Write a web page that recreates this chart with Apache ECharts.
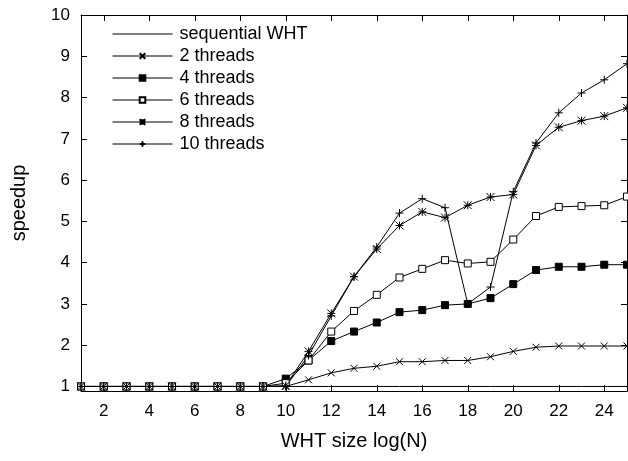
<!DOCTYPE html>
<html>
<head>
<meta charset="utf-8">
<script src="https://cdn.jsdelivr.net/npm/echarts@6/dist/echarts.min.js"></script>
<style>html,body{margin:0;padding:0;background:#fff}#c{width:628px;height:461px}</style>
</head>
<body>
<div id="c"></div>
<script>
var sizes = [1,2,3,4,5,6,7,8,9,10,11,12,13,14,15,16,17,18,19,20,21,22,23,24,25];
var sequential = [1,1,1,1,1,1,1,1,1,1,1,1,1,1,1,1,1,1,1,1,1,1,1,1,1];
var threads2 = [1,1,1,1,1,1,1,1,1,1.0,1.16,1.33,1.44,1.49,1.6,1.6,1.63,1.63,1.72,1.85,1.95,1.98,1.98,1.98,1.98];
var threads4 = [1,1,1,1,1,1,1,1,1,1.19,1.63,2.1,2.33,2.55,2.8,2.85,2.97,3.0,3.14,3.48,3.82,3.9,3.9,3.95,3.95];
var threads6 = [1,1,1,1,1,1,1,1,1,1.08,1.63,2.33,2.83,3.22,3.64,3.85,4.06,3.98,4.02,4.56,5.13,5.35,5.37,5.39,5.6];
var threads8 = [1,1,1,1,1,1,1,1,1,1.02,1.85,2.77,3.66,4.33,4.9,5.23,5.09,5.39,5.59,5.65,6.84,7.28,7.44,7.55,7.75];
var threads10 = [1,1,1,1,1,1,1,1,1,1.0,1.75,2.71,3.66,4.38,5.2,5.55,5.33,3.0,3.41,5.72,6.9,7.63,8.11,8.43,8.82];
var xTicks = [2,4,6,8,10,12,14,16,18,20,22,24];
var yTicks = [1,2,3,4,5,6,7,8,9,10];
var names = ['sequential WHT','2 threads','4 threads','6 threads','8 threads','10 threads'];

function pairs(arr){ return sizes.map(function(x,i){ return [x, arr[i]]; }); }

var FONT = '"Liberation Sans", Arial, sans-serif';
var SYM_X = 'path://M0,0L10,10M10,0L0,10';
var SYM_PLUS = 'path://M5,0L5,10M0,5L10,5';
var SYM_STAR = 'path://M0,0L10,10M10,0L0,10M5,0L5,10M0,5L10,5';

function lineSeries(name, arr, symbol, size, filled){
  return {
    name: name, type: 'line', data: pairs(arr),
    symbol: symbol, symbolSize: size, showSymbol: symbol !== 'none',
    animation: false,
    lineStyle: {color: '#000', width: 1},
    itemStyle: filled === true ? {color: '#000', borderColor: '#000', borderWidth: 1}
      : {color: filled === 'white' ? '#fff' : 'none', borderColor: '#000', borderWidth: 1},
    emphasis: {disabled: true}
  };
}

var chart = echarts.init(document.getElementById('c'), null, {renderer: 'canvas'});
var axisCommon = {
  axisLine: {show: true, lineStyle: {color: '#000', width: 1}},
  splitLine: {show: false}
};
var legendData = names.map(function(n, i){
  var d = {name: n, lineStyle: {width: 1, color: '#000'}};
  if (i === 0) d.itemStyle = {opacity: 0, borderWidth: 0};
  return d;
});
chart.setOption({
  backgroundColor: '#fff',
  animation: false,
  grid: {left: 81, right: 1, top: 15, bottom: 70, containLabel: false},
  legend: {
    orient: 'vertical', left: 107, top: 20,
    itemWidth: 60, itemHeight: 7, itemGap: 4,
    textStyle: {fontFamily: FONT, fontSize: 18, color: '#000', lineHeight: 18, padding: [0,0,0,2]},
    data: legendData,
    selectedMode: false
  },
  xAxis: [
    Object.assign({}, axisCommon, {
      type: 'value', min: 1, max: 25, position: 'bottom',
      name: 'WHT size log(N)', nameLocation: 'middle', nameGap: 40,
      nameTextStyle: {fontFamily: FONT, fontSize: 20, color: '#000'},
      axisTick: {show: true, inside: true, length: 6, lineStyle: {color: '#000'}, customValues: xTicks},
      axisLabel: {show: true, fontFamily: FONT, fontSize: 17, color: '#000', margin: 12, customValues: xTicks}
    }),
    Object.assign({}, axisCommon, {
      type: 'value', min: 1, max: 25, position: 'top',
      axisTick: {show: true, inside: true, length: 6, lineStyle: {color: '#000'}, customValues: xTicks},
      axisLabel: {show: false}
    })
  ],
  yAxis: [
    Object.assign({}, axisCommon, {
      type: 'value', min: 0.89, max: 10, position: 'left',
      name: 'speedup', nameLocation: 'middle', nameGap: 52, nameRotate: 90,
      nameTextStyle: {fontFamily: FONT, fontSize: 20, color: '#000'},
      axisTick: {show: true, inside: true, length: 6, lineStyle: {color: '#000'}, customValues: yTicks},
      axisLabel: {show: true, fontFamily: FONT, fontSize: 17, color: '#000', margin: 11, customValues: yTicks}
    }),
    Object.assign({}, axisCommon, {
      type: 'value', min: 0.89, max: 10, position: 'right',
      axisTick: {show: true, inside: true, length: 6, lineStyle: {color: '#000'}, customValues: yTicks},
      axisLabel: {show: false}
    })
  ],
  series: [
    lineSeries(names[0], sequential, 'none', 0, false),
    lineSeries(names[1], threads2, SYM_X, 7, false),
    lineSeries(names[2], threads4, 'rect', 7, true),
    lineSeries(names[3], threads6, 'rect', 7, 'white'),
    lineSeries(names[4], threads8, SYM_STAR, 8, false),
    lineSeries(names[5], threads10, SYM_PLUS, 8, false)
  ]
});
</script>
</body>
</html>
